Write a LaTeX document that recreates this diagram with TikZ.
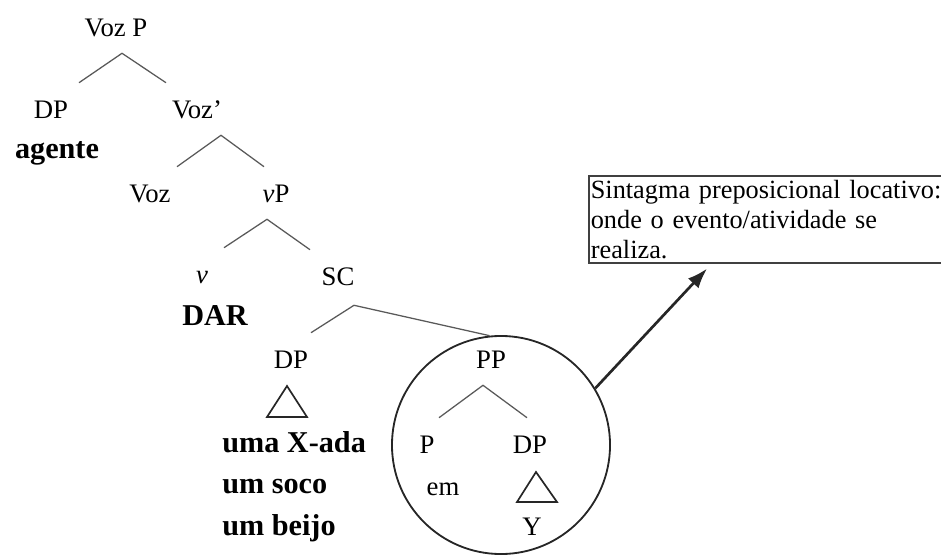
\documentclass[tikz,border=0pt]{standalone}
\usepackage{fontspec}
\setmainfont{Liberation Serif}
\usepackage{tikz}
\usetikzlibrary{arrows.meta}
\tikzstyle{lbl} = [
    anchor=base,
    inner sep=0pt,
    text height=0.875cm,
    text depth=0.425cm,
    font=\fontsize{19}{22}\selectfont
]
\tikzstyle{lex} = [
    anchor=base,
    inner sep=0pt,
    font=\fontsize{21.5}{24}\selectfont\bfseries
]
\tikzstyle{branch} = [
    draw=black!65,
    line width=0.9pt
]
\tikzstyle{tri} = [
    draw=black!85,
    line width=1.2pt
]
\tikzstyle{arrow} = [
    line width=1.9pt,
    draw=black!85,
    -{Latex[length=5mm,width=3.6mm]}
]

\begin{document}
\begin{tikzpicture}[x=0.025cm, y=-0.025cm]
    \useasboundingbox (0,0) rectangle (941,559);
    % upper part of the tree
    \node[lbl] (vozp)   at (116,36)  {Voz P};
    \node[lbl] (dpa)    at (51,118)  {DP};
    \node[lbl] (vozbar) at (197,118) {Voz'};
    \node[lex] (agente) at (57,158)  {agente};
    \node[lbl] (voz)    at (150,202) {Voz};
    \node[lbl] (vp)     at (276,202) {\textit{v}P};
    \node[lbl] (vhead)  at (202,283) {\textit{v}};
    \node[lbl] (sc)     at (338,285) {SC};
    \node[lex] (dar)    at (215,325) {DAR};
    \node[lbl] (dpb)    at (291,368) {DP};
    \node[lex, anchor=base west] (xada)  at (222,452) {uma X-ada};
    \node[lex, anchor=base west] (soco)  at (222,493) {um soco};
    \node[lex, anchor=base west] (beijo) at (222,535) {um beijo};
    % the circled PP
    \node[circle, draw=black!85, line width=1.3pt, minimum size=5.45cm, inner sep=0pt] (ppcircle) at (501,445) {};
    \node[lbl] (pp)    at (491,368) {PP};
    \node[lbl] (phead) at (427,453) {P};
    \node[lbl] (em)    at (443,495) {em};
    \node[lbl] (dpc)   at (530,453) {DP};
    \node[lbl] (yy)    at (532,535) {Y};
    % branches
    \draw[branch] ([shift={(28,0)}]dpa.north) -- ([shift={(6,0)}]vozp.south) -- ([shift={(-31,0)}]vozbar.north);
    \draw[branch] ([shift={(27,0)}]voz.north) -- ([shift={(24,0)}]vozbar.south) -- ([shift={(-12,0)}]vp.north);
    \draw[branch] ([shift={(22,0)}]vhead.north) -- ([shift={(-9,0)}]vp.south) -- ([shift={(-28,0)}]sc.north);
    \draw[branch] ([shift={(20,0)}]dpb.north) -- ([shift={(16,3)}]sc.south) -- (ppcircle.96);
    \draw[branch] ([shift={(12,0)}]phead.north) -- ([shift={(-8,0)}]pp.south) -- ([shift={(-3,0)}]dpc.north);
    % triangles
    \draw[tri] ([shift={(-4,18)}]dpb.base) -- ++(-20,31) -- ++(40,0) -- cycle;
    \draw[tri] ([shift={(6,19)}]dpc.base) -- ++(-19,30) -- ++(40,0) -- cycle;
    % comment box, its right side runs off the page
    \node[anchor=north west, draw=black!75, line width=1.2pt, text width=9.4cm, align=left,
          inner xsep=0.05cm, inner ysep=3pt, font=\fontsize{18.7}{21.3}\selectfont]
          (locbox) at (588,175) {Sintagma preposicional locativo:\\ onde o evento/atividade se\\ realiza.};
    \draw[arrow] (ppcircle.31) -- ([shift={(119,5)}]locbox.south west);
\end{tikzpicture}
\end{document}
